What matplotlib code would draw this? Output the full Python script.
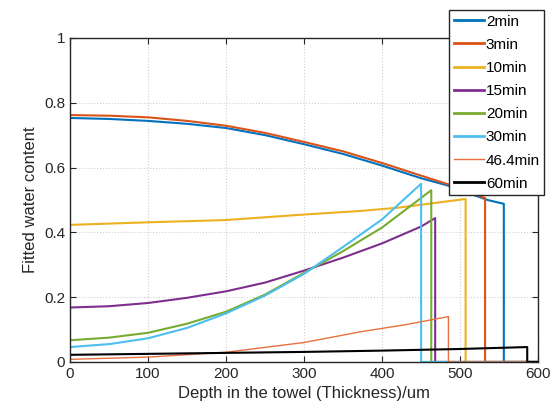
import numpy as np
import matplotlib
matplotlib.use('Agg')
import matplotlib.pyplot as plt

plt.rcParams['font.family'] = ['Liberation Sans', 'DejaVu Sans']

# depth (um) and fitted water content
x_2 = [0, 50, 100, 150, 200, 250, 300, 350, 400, 450, 485, 535, 556, 556, 600]
y_2 = [0.753, 0.750, 0.744, 0.735, 0.722, 0.700, 0.672, 0.642, 0.606, 0.567, 0.544, 0.500, 0.488, 0, 0]

x_3 = [0, 50, 100, 150, 200, 250, 300, 350, 400, 450, 485, 532, 532, 600]
y_3 = [0.762, 0.760, 0.755, 0.744, 0.729, 0.707, 0.679, 0.650, 0.614, 0.575, 0.548, 0.506, 0, 0]

x_10 = [0, 100, 200, 300, 372, 420, 507, 507, 600]
y_10 = [0.423, 0.431, 0.438, 0.455, 0.466, 0.476, 0.503, 0, 0]

x_15 = [0, 50, 100, 150, 200, 250, 300, 350, 400, 450, 468, 468, 600]
y_15 = [0.168, 0.172, 0.182, 0.198, 0.218, 0.245, 0.282, 0.322, 0.366, 0.418, 0.444, 0, 0]

x_20 = [0, 50, 100, 150, 200, 250, 300, 350, 400, 463, 463, 600]
y_20 = [0.067, 0.075, 0.090, 0.118, 0.155, 0.208, 0.275, 0.342, 0.415, 0.530, 0, 0]

x_30 = [0, 50, 100, 150, 200, 250, 300, 350, 400, 450, 450, 600]
y_30 = [0.046, 0.055, 0.073, 0.105, 0.150, 0.205, 0.272, 0.355, 0.440, 0.550, 0, 0]

x_46 = [0, 100, 200, 300, 372, 430, 485, 485, 600]
y_46 = [0.008, 0.015, 0.030, 0.060, 0.093, 0.115, 0.140, 0, 0]

x_60 = [0, 100, 200, 300, 400, 500, 586, 586, 600]
y_60 = [0.022, 0.025, 0.028, 0.031, 0.035, 0.040, 0.046, 0, 0]

labels = ['2min', '3min', '10min', '15min', '20min', '30min', '46.4min', '60min']
colors = ['#0072BD', '#D95319', '#EDB120', '#7E2F8E', '#77AC30', '#4DBEEE', '#E8703F', '#000000']
widths = [1.5, 1.5, 1.5, 1.5, 1.5, 1.5, 1.0, 1.5]

series = [(x_2, y_2), (x_3, y_3), (x_10, y_10), (x_15, y_15),
          (x_20, y_20), (x_30, y_30), (x_46, y_46), (x_60, y_60)]

fig = plt.figure(figsize=(5.6, 4.17), dpi=100)
ax = fig.add_axes([0.125, 0.132, 0.836, 0.777])

for (x, y), lab, c, w in zip(series, labels, colors, widths):
   ax.plot(x, y, color=c, lw=w, label=lab)

ax.set_xlim(0, 600)
ax.set_ylim(0, 1)
ax.set_xticks(np.arange(0, 601, 100))
ax.set_yticks([0, 0.2, 0.4, 0.6, 0.8, 1])
ax.set_yticklabels(['0', '0.2', '0.4', '0.6', '0.8', '1'])
ax.grid(True, color='#d0d0d0', lw=0.8, ls=':')
ax.tick_params(direction='in', labelsize=11, colors='#262626', length=4, top=True, right=True, labeltop=False, labelright=False)
for s in ax.spines.values():
   s.set_color('#262626')
   s.set_linewidth(1)
ax.set_xlabel('Depth in the towel (Thickness)/um', fontsize=12, color='#262626')
ax.set_ylabel('Fitted water content', fontsize=12, color='#262626')

leg = ax.legend(loc='upper left', bbox_to_anchor=(0.802, 0.976), bbox_transform=fig.transFigure,
                fontsize=11, handlelength=2.0, handletextpad=0.1, labelspacing=0.6,
                borderpad=0.3, borderaxespad=0, fancybox=False, framealpha=1)
leg.get_frame().set_edgecolor('#262626')
leg.get_frame().set_linewidth(1)
for h in leg.get_lines():
   if h.get_linewidth() > 1.2:
      h.set_linewidth(2)

fig.savefig('out.png', dpi=100)
